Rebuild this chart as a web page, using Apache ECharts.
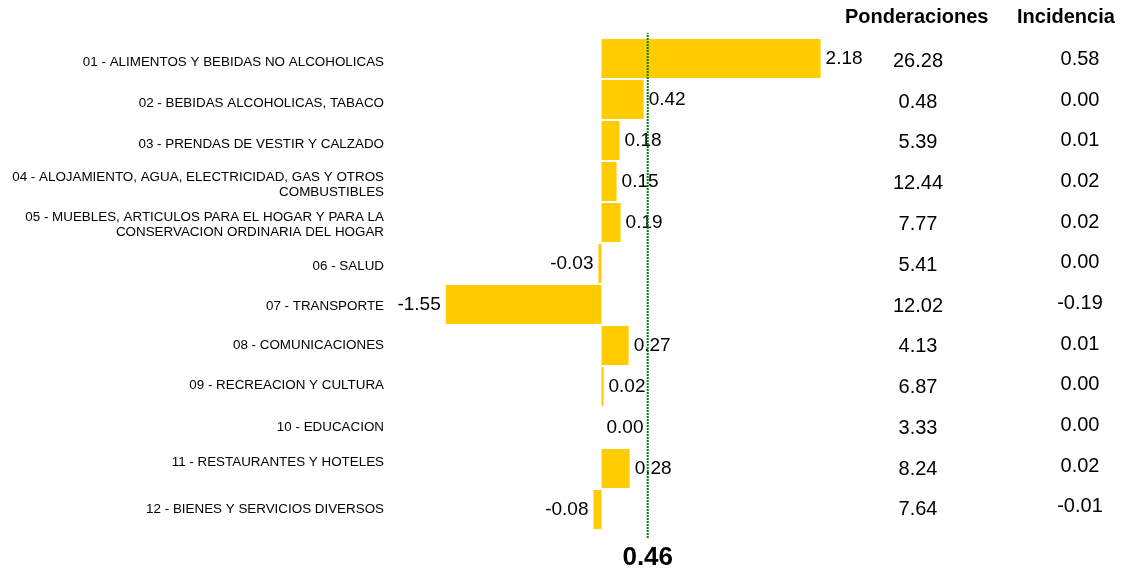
<!DOCTYPE html>
<html>
<head>
<meta charset="utf-8">
<script src="https://cdn.jsdelivr.net/npm/echarts@6/dist/echarts.min.js"></script>
<style>
html,body{margin:0;padding:0;background:#fff;}
#chart{width:1122px;height:571px;}
</style>
</head>
<body>
<div id="chart"></div>
<script>
const categories = [
  "01 - ALIMENTOS Y BEBIDAS NO ALCOHOLICAS",
  "02 - BEBIDAS ALCOHOLICAS, TABACO",
  "03 - PRENDAS DE VESTIR Y CALZADO",
  "04 - ALOJAMIENTO, AGUA, ELECTRICIDAD, GAS Y OTROS\nCOMBUSTIBLES",
  "05 - MUEBLES, ARTICULOS PARA EL HOGAR Y PARA LA\nCONSERVACION ORDINARIA DEL HOGAR",
  "06 - SALUD",
  "07 - TRANSPORTE",
  "08 - COMUNICACIONES",
  "09 - RECREACION Y CULTURA",
  "10 - EDUCACION",
  "11 - RESTAURANTES Y HOTELES",
  "12 - BIENES Y SERVICIOS DIVERSOS"
];
const variaciones = [2.18, 0.42, 0.18, 0.15, 0.19, -0.03, -1.55, 0.27, 0.02, 0.00, 0.28, -0.08];
const ponderaciones = [26.28, 0.48, 5.39, 12.44, 7.77, 5.41, 12.02, 4.13, 6.87, 3.33, 8.24, 7.64];
const incidencia = [0.58, 0.00, 0.01, 0.02, 0.02, 0.00, -0.19, 0.01, 0.00, 0.00, 0.02, -0.01];
const total = 0.46;
const headers = ["Ponderaciones", "Incidencia"];

// layout-only: small vertical nudges of the category labels (px)
const labelNudge = [3.5, 3.5, 3.5, 3, 2, 2.5, 1.5, 0, -1.5, 0, -6.5, 0];

const FONT = "'Liberation Sans', Arial, sans-serif";
const chart = echarts.init(document.getElementById('chart'));

const rich = {};
labelNudge.forEach((p, i) => {
  rich['a' + i] = {
    fontSize: 13.4, lineHeight: 15, color: '#000', fontFamily: FONT, align: 'right',
    padding: p >= 0 ? [2 * p, 0, 0, 0] : [0, 0, -2 * p, 0]
  };
});

const barData = variaciones.map(v => ({
  value: v,
  label: { position: v < 0 ? 'left' : 'right' }
}));

const hiddenCat = {
  axisLine: { show: false }, axisTick: { show: false }, splitLine: { show: false }
};

chart.setOption({
  animation: false,
  textStyle: { fontFamily: FONT },
  grid: [
    { left: 400.5, right: 219, top: 38, bottom: 41 },
    { left: 918, right: 203, top: 41, bottom: 40.7 },
    { left: 1080, right: 41, top: 39, bottom: 43.8 },
    { left: 400.5, right: 219, top: 33, bottom: 33 }
  ],
  xAxis: [
    { gridIndex: 0, type: 'value', min: -2, max: 3, show: false },
    { gridIndex: 1, type: 'value', min: 0, max: 1, show: false },
    { gridIndex: 2, type: 'value', min: 0, max: 1, show: false },
    { gridIndex: 3, type: 'value', min: -2, max: 3, show: false }
  ],
  yAxis: [
    Object.assign({
      gridIndex: 0, type: 'category', data: categories, inverse: true,
      axisLabel: {
        interval: 0, margin: 16.5, color: '#000', fontSize: 13.4, lineHeight: 15,
        fontFamily: FONT, align: 'right', rich: rich,
        formatter: (val, idx) => val.split('\n').map(l => '{a' + idx + '|' + l + '}').join('\n')
      }
    }, hiddenCat),
    Object.assign({
      gridIndex: 1, type: 'category', data: ponderaciones.map(v => v.toFixed(2)), inverse: true,
      position: 'left',
      axisLabel: { interval: 0, margin: 0, color: '#000', fontSize: 20, align: 'center', fontFamily: FONT }
    }, hiddenCat),
    Object.assign({
      gridIndex: 2, type: 'category', data: incidencia.map(v => v.toFixed(2)), inverse: true,
      position: 'left',
      axisLabel: { interval: 0, margin: 0, color: '#000', fontSize: 20, align: 'center', fontFamily: FONT }
    }, hiddenCat),
    { gridIndex: 3, type: 'value', min: 0, max: 1, show: false }
  ],
  title: [
    { text: headers[0], left: 845, top: 7, padding: 0,
      textStyle: { fontSize: 20, fontWeight: 'bold', color: '#000', fontFamily: FONT } },
    { text: headers[1], left: 1017, top: 7, padding: 0,
      textStyle: { fontSize: 20, fontWeight: 'bold', color: '#000', fontFamily: FONT } }
  ],
  series: [
    {
      type: 'bar',
      xAxisIndex: 0, yAxisIndex: 0,
      data: barData,
      barWidth: 39,
      itemStyle: { color: '#FFCC00' },
      label: {
        show: true, color: '#000', fontSize: 19, fontFamily: FONT, distance: 5,
        formatter: p => p.value.toFixed(2)
      }
    },
    {
      type: 'line',
      xAxisIndex: 3, yAxisIndex: 3,
      silent: true,
      symbol: 'circle', symbolSize: 0,
      lineStyle: { color: '#008000', type: [2, 1], width: 2 },
      itemStyle: { color: '#008000' },
      z: 5,
      data: [
        { value: [total, 0], label: {
            show: true, position: 'bottom', distance: 7,
            formatter: () => total.toFixed(2),
            color: '#000', fontSize: 26, fontWeight: 'bold', fontFamily: FONT } },
        { value: [total, 1] }
      ]
    }
  ]
});
</script>
</body>
</html>
